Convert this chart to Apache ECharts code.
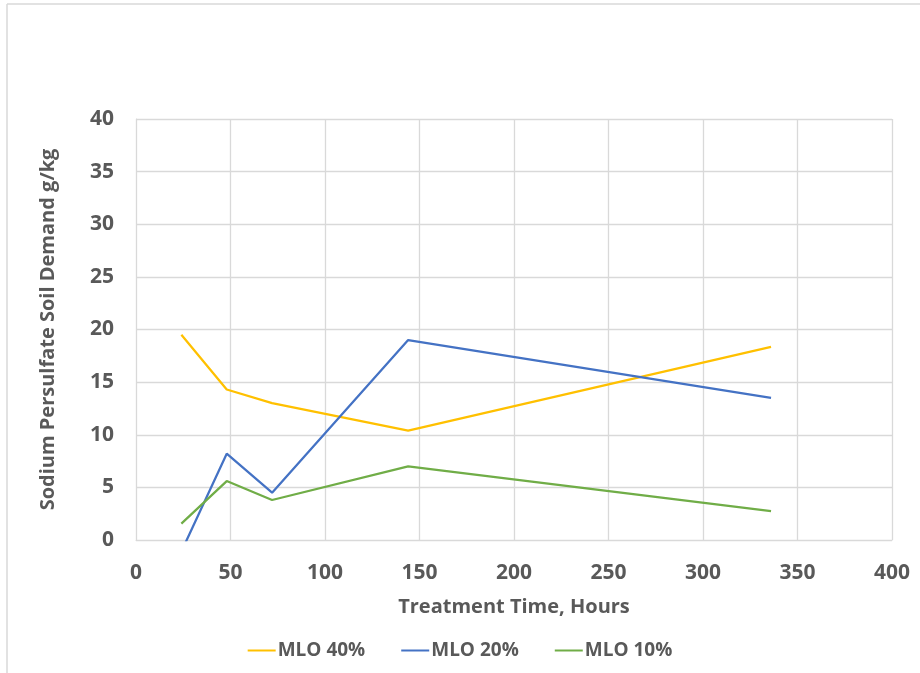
<!DOCTYPE html>
<html>
<head>
<meta charset="utf-8">
<script src="https://cdn.jsdelivr.net/npm/echarts@6/dist/echarts.min.js"></script>
<style>html,body{margin:0;padding:0;background:#fff}#c{width:920px;height:673px}</style>
</head>
<body>
<div id="c"></div>
<script>
const hours = [24, 48, 72, 144, 336];
const mlo40 = [19.5, 14.3, 13.0, 10.4, 18.35];
const mlo20 = [-1.1, 8.2, 4.5, 19.0, 13.5];
const mlo10 = [1.55, 5.6, 3.8, 7.0, 2.75];
const seriesNames = ['MLO 40%', 'MLO 20%', 'MLO 10%'];
const colors = ['#FFC000', '#4472C4', '#70AD47'];
const xTitle = 'Treatment Time, Hours';
const yTitle = 'Sodium Persulfate Soil Demand g/kg';

const font = '"Open Sans", "Liberation Sans", sans-serif';
const txt = '#595959';
const pair = (ys) => hours.map((h, i) => [h, ys[i]]);
const chart = echarts.init(document.getElementById('c'));
chart.setOption({
  animation: false,
  graphic: [
    {type: 'line', shape: {x1: 7, y1: 4, x2: 920, y2: 4}, style: {stroke: '#d9d9d9', lineWidth: 1.5}},
    {type: 'line', shape: {x1: 7, y1: 4, x2: 7, y2: 673}, style: {stroke: '#d9d9d9', lineWidth: 1.5}}
  ],
  grid: {left: 136, right: 28, top: 119, bottom: 133},
  legend: {
    bottom: 8, left: 'center', itemWidth: 28, itemHeight: 2, itemGap: 36,
    icon: 'rect',
    textStyle: {fontFamily: font, fontWeight: 'bold', fontSize: 19, color: txt, padding: [0, 0, 0, -3]},
    data: seriesNames
  },
  xAxis: {
    type: 'value', min: 0, max: 400, interval: 50,
    name: xTitle, nameLocation: 'middle', nameGap: 57,
    nameTextStyle: {fontFamily: font, fontWeight: 'bold', fontSize: 20, color: txt},
    axisLine: {lineStyle: {color: '#d9d9d9'}},
    axisTick: {show: false},
    axisLabel: {fontFamily: font, fontWeight: 'bold', fontSize: 21, color: txt, margin: 23},
    splitLine: {show: true, lineStyle: {color: '#d9d9d9', width: 1.3}}
  },
  yAxis: {
    type: 'value', min: 0, max: 40, interval: 5,
    name: yTitle, nameLocation: 'middle', nameGap: 78, nameRotate: 90,
    nameTextStyle: {fontFamily: font, fontWeight: 'bold', fontSize: 20, color: txt},
    axisLine: {show: true, lineStyle: {color: '#d9d9d9'}},
    axisTick: {show: false},
    axisLabel: {fontFamily: font, fontWeight: 'bold', fontSize: 21, color: txt, margin: 22},
    splitLine: {show: true, lineStyle: {color: '#d9d9d9', width: 1.3}}
  },
  series: [mlo40, mlo20, mlo10].map((d, i) => ({
    name: seriesNames[i], type: 'line', data: pair(d), showSymbol: false, symbol: 'none',
    clip: true, color: colors[i], lineStyle: {width: 2.25, color: colors[i]}
  }))
});
</script>
</body>
</html>
